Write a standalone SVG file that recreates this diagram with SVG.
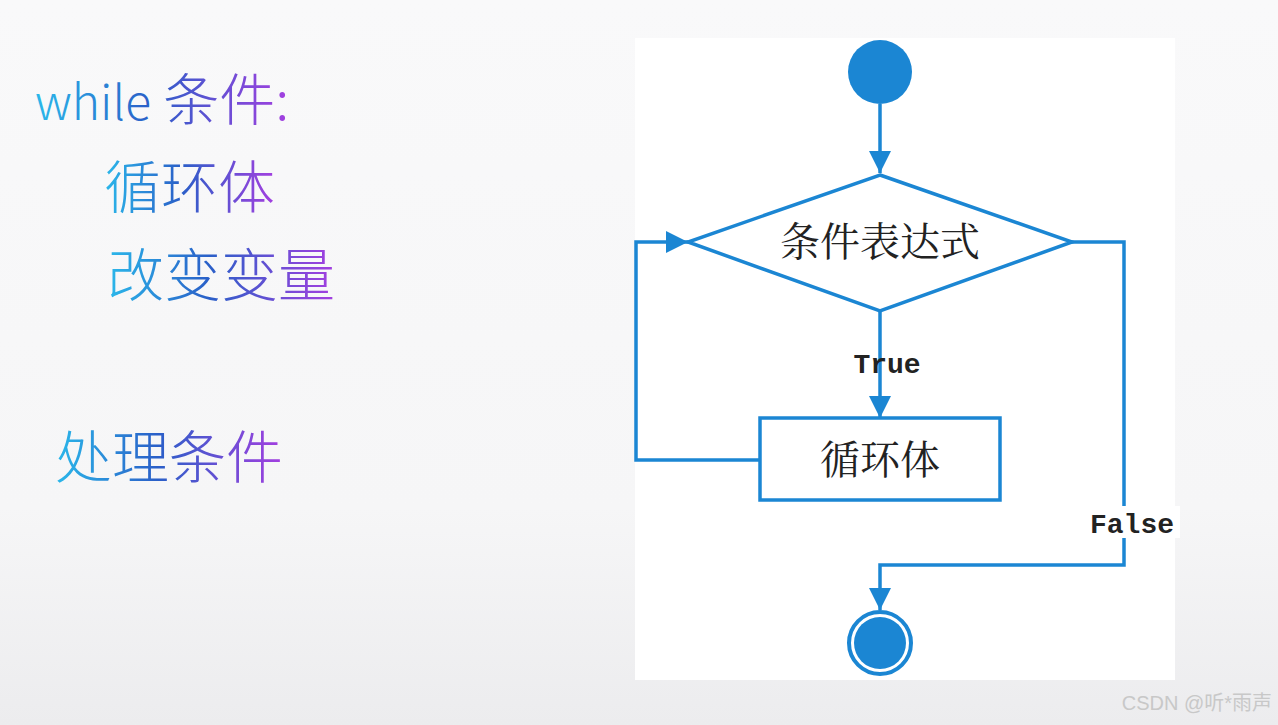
<svg xmlns="http://www.w3.org/2000/svg" width="1278" height="725" viewBox="0 0 1278 725">
<defs>
<linearGradient id="bg" x1="0" y1="0" x2="0" y2="1"><stop offset="0" stop-color="#f9f9fa"/><stop offset="0.7" stop-color="#f6f6f7"/><stop offset="1" stop-color="#ececee"/></linearGradient>
<linearGradient id="tg" x1="0" y1="0" x2="1" y2="0"><stop offset="0" stop-color="#2bb8ea"/><stop offset="0.45" stop-color="#2a5fc8"/><stop offset="1" stop-color="#a43fe0"/></linearGradient>
<marker id="ah" viewBox="0 0 10 10" refX="10" refY="5" markerWidth="22" markerHeight="22" markerUnits="userSpaceOnUse" orient="auto"><path d="M0,0 L10,5 L0,10 Z" fill="#1b86d3"/></marker>
<style>
.ln{fill:none;stroke:#1b86d3;stroke-width:3.5}
.cn{font-family:"Noto Sans CJK SC","Noto Sans",sans-serif;font-weight:300;fill:url(#tg)}
.lb{font-family:"Noto Serif CJK SC","Liberation Serif","Noto Sans CJK SC",serif;font-size:40px;fill:#222;text-anchor:middle}
.mono{font-family:"Liberation Mono","DejaVu Sans Mono",monospace;font-weight:bold;font-size:28px;fill:#222}
</style>
</defs>
<rect width="1278" height="725" fill="url(#bg)"/>
<rect x="635" y="38" width="540" height="642" fill="#ffffff"/>
<g id="left-text">
<text class="cn" x="35" y="120" font-size="56"><tspan font-size="48">while</tspan> 条件:</text>
<text class="cn" x="104" y="208" font-size="57">循环体</text>
<text class="cn" x="107" y="296" font-size="57">改变变量</text>
<text class="cn" x="55" y="478" font-size="57">处理条件</text>
</g>
<g id="connectors">
<path class="ln" d="M880,104 L880,173" marker-end="url(#ah)"/>
<path class="ln" d="M880,311 L880,418" marker-end="url(#ah)"/>
<path class="ln" d="M760,460 L636,460 L636,242 L688,242" marker-end="url(#ah)"/>
<path class="ln" d="M1072,242 L1124,242 L1124,565 L880,565 L880,610" marker-end="url(#ah)"/>
<rect x="1084" y="506" width="96" height="32" fill="#ffffff"/>
<text class="mono" x="887" y="373" text-anchor="middle">True</text>
<text class="mono" x="1132" y="533" text-anchor="middle">False</text>
</g>
<g id="start"><circle cx="880" cy="72" r="32" fill="#1b86d3"/></g>
<g id="cond"><polygon points="880,175 1072,242 880,311 688,242" fill="#fff" stroke="#1b86d3" stroke-width="3.5"/><text class="lb" x="880" y="256">条件表达式</text></g>
<g id="body"><rect x="760" y="418" width="240" height="82" fill="#fff" stroke="#1b86d3" stroke-width="3.5"/><text class="lb" x="880" y="474">循环体</text></g>
<g id="end"><circle cx="880" cy="643" r="31" fill="#fff" stroke="#1b86d3" stroke-width="4"/><circle cx="880" cy="643" r="26" fill="#1b86d3"/></g>
<text x="1272" y="710" text-anchor="end" font-family="Liberation Sans,'Noto Sans CJK SC',sans-serif" font-size="20" fill="#c8c8c8">CSDN @听*雨声</text>
</svg>
